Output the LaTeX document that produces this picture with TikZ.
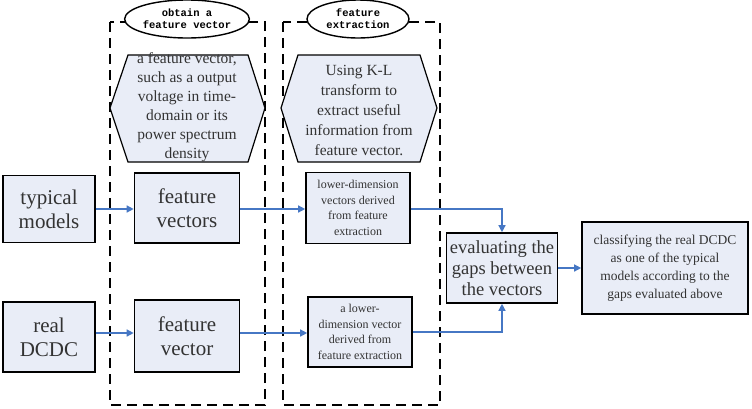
\documentclass[tikz,border=0pt]{standalone}
\usepackage{fontspec}
\setmainfont{Liberation Serif}
\setmonofont{Liberation Mono}
\usetikzlibrary{shapes.geometric,arrows.meta}
\definecolor{fillc}{HTML}{E9EDF7}
\definecolor{arr}{HTML}{4677C4}
\definecolor{txt}{HTML}{333333}
\begin{document}
\begin{tikzpicture}[x=1pt,y=-1pt,
 box/.style={draw=black,line width=1.6pt,fill=fillc,text=txt,align=center,inner sep=1pt},
 hex/.style={draw=black,line width=1.2pt,fill=fillc},
 dbox/.style={draw=black,line width=1.6pt,dash pattern=on 10pt off 6pt},
 ell/.style={ellipse,draw=black,line width=1.4pt,fill=white,font=\ttfamily\bfseries\fontsize{10.5}{12}\selectfont,align=center,inner sep=0pt,minimum width=102pt,minimum height=38pt},
 ar/.style={draw=arr,line width=1.3pt,-{Triangle[length=7pt,width=7pt]}}]
\useasboundingbox (0,0) rectangle (752,408);
% dashed frames
\draw[dbox] (110,22) rectangle (265,405);
\draw[dbox] (283,22) rectangle (440,405);
\node[ell] (e1) at (187,19) {obtain a\\feature vector};
\node[ell] (e2) at (358,19) {feature\\extraction};
% hexagons
\draw[hex] (110,108) -- (128,55) -- (248,55) -- (265,108) -- (248,162) -- (128,162) -- cycle;
\node[text=txt,align=center,font=\fontsize{15.5}{19}\selectfont] (h1) at (187,107) {a feature vector,\\such as a output\\voltage in time-\\domain or its\\power spectrum\\density};
\draw[hex] (281,108) -- (298,55) -- (420,55) -- (437,108) -- (420,162) -- (298,162) -- cycle;
\node[text=txt,align=center,font=\fontsize{15.5}{20}\selectfont] (h2) at (359,110) {Using K-L\\transform to\\extract useful\\information from\\feature vector.};
% boxes
\node[box,minimum width=92pt,minimum height=67pt,font=\fontsize{21}{24}\selectfont] (tm) at (49,209) {typical\\models};
\node[box,minimum width=105pt,minimum height=70pt,font=\fontsize{21}{24}\selectfont] (fv) at (187,208) {feature\\vectors};
\node[box,minimum width=104pt,minimum height=71pt,font=\fontsize{12}{15.5}\selectfont] (ld) at (358,208) {lower-dimension\\vectors derived\\from feature\\extraction};
\node[box,minimum width=92pt,minimum height=70pt,font=\fontsize{21}{24}\selectfont] (rd) at (49,337) {real\\DCDC};
\node[box,minimum width=105pt,minimum height=72pt,font=\fontsize{21}{24}\selectfont] (fv2) at (187,336) {feature\\vector};
\node[box,minimum width=104pt,minimum height=70pt,font=\fontsize{12}{15.5}\selectfont] (ld2) at (360,332) {a lower-\\dimension vector\\derived from\\feature extraction};
\node[box,minimum width=111pt,minimum height=70pt,font=\fontsize{18.5}{21}\selectfont] (ev) at (502,268) {evaluating the\\gaps between\\the vectors};
\node[box,minimum width=166pt,minimum height=92pt,font=\fontsize{13.5}{18}\selectfont] (cl) at (665,268) {classifying the real DCDC\\as one of the typical\\models according to the\\gaps evaluated above};
% arrows
\draw[ar] (tm.east |- 0,209) -- (fv.west |- 0,209);
\draw[ar] (fv.east |- 0,209) -- (ld.west |- 0,209);
\draw[ar] (rd.east |- 0,333) -- (fv2.west |- 0,333);
\draw[ar] (fv2.east |- 0,333) -- (ld2.west |- 0,333);
\draw[ar] (ld.east |- 0,209) -| (ev.north);
\draw[ar] (ld2.east |- 0,332) -| (ev.south);
\draw[ar] (ev.east) -- (cl.west);
\end{tikzpicture}
\end{document}
